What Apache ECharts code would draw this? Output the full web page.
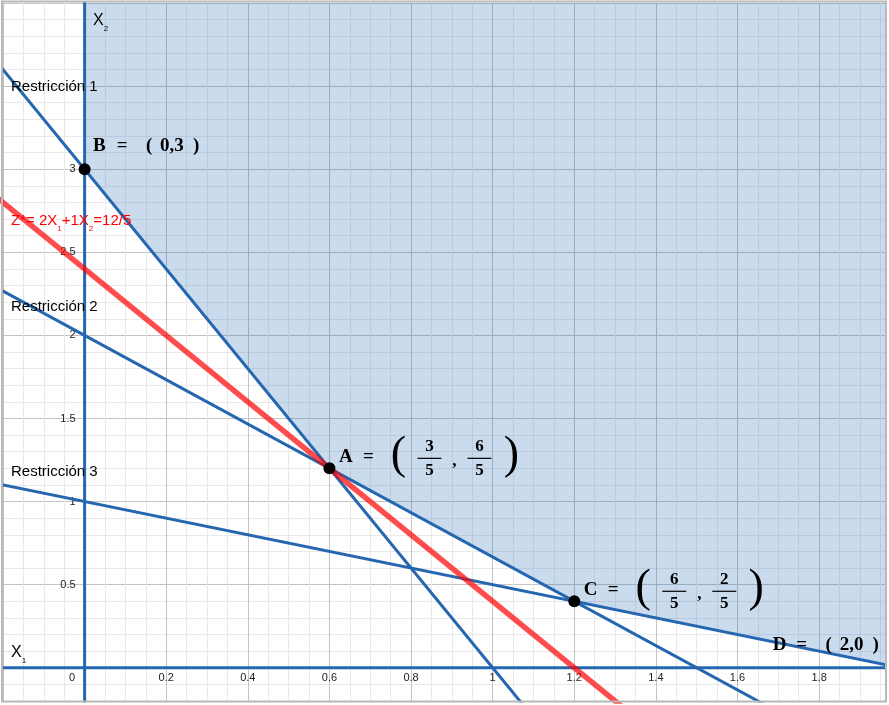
<!DOCTYPE html>
<html><head><meta charset="utf-8">
<script src="https://cdn.jsdelivr.net/npm/echarts@6/dist/echarts.min.js"></script>
<style>html,body{margin:0;padding:0;background:#fff}#c{width:889px;height:705px}</style>
</head><body><div id="c"></div>
<script>
// ---- data ----
const xLimits = [-0.2, 1.9615];
const yLimits = [-0.2, 4.0];
const xTickLabels = ['0','0.2','0.4','0.6','0.8','1','1.2','1.4','1.6','1.8'];
const yTickLabels = ['0.5','1','1.5','2','2.5','3'];
const restriction1 = [[-0.3, 3.9], [1.1, -0.3]];
const restriction2 = [[-0.3, 2.4], [1.8, -0.4]];
const restriction3 = [[-0.3, 1.15], [2.2, -0.1]];
const objectiveLine = [[-0.3, 3.0], [1.35, -0.3]];
const axisX1Line = [[-0.3, 0], [2.2, 0]];
const axisX2Line = [[0, -0.3], [0, 4.5]];
const feasibleRegion = [[0, 4.5], [0, 3], [0.6, 1.2], [1.2, 0.4], [2.2, -0.1], [2.2, 4.5]];
const vertexNames = ['A', 'B', 'C', 'D'];
const vertexCoords = [[0.6, 1.2], [0, 3], [1.2, 0.4], [2, 0]];
const vertexFractions = { A: ['3', '5', '6', '5'], C: ['6', '5', '2', '5'] };
const vertexPlain = { B: '0,3', D: '2,0' };
const lineNames = ['Restricción 1', 'Restricción 2', 'Restricción 3'];

const BLUE = '#2566b0';
const GRID = { left: 3, right: 4, top: 3, bottom: 4 };
const W = 889, H = 705;
const chart = echarts.init(document.getElementById('c'), null, { renderer: 'canvas' });

// pixel offsets that put the axes at the data zero
const xZeroFrac = (0 - xLimits[0]) / (xLimits[1] - xLimits[0]);
const yZeroFrac = (0 - yLimits[0]) / (yLimits[1] - yLimits[0]);
const plotW = W - GRID.left - GRID.right, plotH = H - GRID.top - GRID.bottom;
const yAxisOffset = -xZeroFrac * plotW;
const xAxisOffset = -yZeroFrac * plotH;

function blueLine(data, name) {
  return { type: 'line', name, data, symbol: 'none', clip: true, silent: true, z: 3,
    lineStyle: { color: BLUE, width: 3 }, animation: false };
}
const minorC = '#e9e9e9', majorC = '#c4c4c4';

chart.setOption({
  animation: false,
  grid: Object.assign({ containLabel: false, outerBoundsMode: 'none' }, GRID),
  xAxis: {
    type: 'value', min: xLimits[0], max: xLimits[1], interval: 0.2,
    position: 'bottom', offset: xAxisOffset,
    axisLine: { show: false, onZero: false },
    axisTick: { show: false },
    axisLabel: {
      margin: 5, fontSize: 11, color: '#222', fontFamily: 'Liberation Sans',
      formatter: v => { const s = String(Math.round(v * 100) / 100); if (!xTickLabels.includes(s)) return ''; return s === '0' ? '{z|0}' : s; },
      rich: { z: { fontSize: 11, color: '#222', fontFamily: 'Liberation Sans', padding: [0, 25, 0, 0] } }
    },
    splitLine: { show: true, lineStyle: { color: majorC, width: 1 } },
    minorTick: { show: false, splitNumber: 4 },
    minorSplitLine: { show: true, lineStyle: { color: minorC, width: 1 } }
  },
  yAxis: {
    type: 'value', min: yLimits[0], max: yLimits[1], interval: 0.1,
    position: 'left', offset: yAxisOffset,
    axisLine: { show: false, onZero: false },
    axisTick: { show: false },
    axisLabel: {
      margin: 9, fontSize: 11, color: '#222', fontFamily: 'Liberation Sans',
      formatter: v => { const s = String(Math.round(v * 10) / 10); return yTickLabels.includes(s) ? s : ''; }
    },
    splitLine: { show: true, lineStyle: { color: [minorC, minorC, majorC, minorC, minorC], width: 1 } }
  },
  series: [
    {
      type: 'custom', data: [0], clip: true, silent: true, z: 1,
      renderItem: (params, api) => ({
        type: 'polygon',
        shape: { points: feasibleRegion.map(p => api.coord(p)) },
        style: { fill: 'rgba(30,100,180,0.23)' }
      })
    },
    blueLine(axisX1Line, 'x1'),
    blueLine(axisX2Line, 'x2'),
    blueLine(restriction1, lineNames[0]),
    blueLine(restriction2, lineNames[1]),
    blueLine(restriction3, lineNames[2]),
    { type: 'line', data: objectiveLine, symbol: 'none', clip: true, silent: true, z: 4,
      lineStyle: { color: 'rgba(255,0,0,0.7)', width: 5.5 } },
    { type: 'scatter', data: vertexNames.map((n, i) => ({ name: n, value: vertexCoords[i] })),
      symbol: 'circle', symbolSize: 12, clip: true, z: 6,
      itemStyle: { color: '#000', opacity: 1 } }
  ]
});

// ---- annotations ----
const g = [];
const SERIF = 'Liberation Serif';
function txt(text, x, y, font, align, color) {
  g.push({ type: 'text', x, y, z: 50, silent: true,
    style: { text, font, textAlign: align || 'left', textVerticalAlign: 'middle', fill: color || '#000' } });
}
const bf = 'bold 19px "' + SERIF + '"';
const nf = 'bold 17px "' + SERIF + '"';
const pf = '46px "' + SERIF + '"';

vertexNames.forEach((n, i) => {
  const [px, py] = chart.convertToPixel({ gridIndex: 0 }, vertexCoords[i]);
  if (vertexPlain[n]) {
    const l = px + (n === 'D' ? -128 : 8.5), y = py - 23;
    txt(n, l, y, bf, 'left');
    txt('=', l + 29, y, bf, 'center');
    txt('(', l + 56, y, bf, 'center');
    txt(vertexPlain[n], l + 67, y, bf, 'left');
    txt(')', l + 103, y, bf, 'center');
  } else {
    const f = vertexFractions[n];
    const l = px + 9.5, y = py - 11;
    txt(n, l, y, bf, 'left');
    txt('=', l + 29.5, y, bf, 'center');
    txt('(', px + 69, y - 1, pf, 'center');
    txt(f[0], px + 100, py - 22, nf, 'center');
    txt(f[1], px + 100, py + 2, nf, 'center');
    g.push({ type: 'line', z: 50, silent: true, shape: { x1: px + 88, y1: py - 10, x2: px + 112, y2: py - 10 }, style: { stroke: '#000', lineWidth: 1.2 } });
    txt(',', px + 125, py - 7, nf, 'center');
    txt(f[2], px + 150, py - 22, nf, 'center');
    txt(f[3], px + 150, py + 2, nf, 'center');
    g.push({ type: 'line', z: 50, silent: true, shape: { x1: px + 138, y1: py - 10, x2: px + 162, y2: py - 10 }, style: { stroke: '#000', lineWidth: 1.2 } });
    txt(')', px + 182, y - 1, pf, 'center');
  }
});

const sf = '15px "Liberation Sans"';
txt(lineNames[0], 11, 87, sf, 'left');
txt(lineNames[1], 11, 307, sf, 'left');
txt(lineNames[2], 11, 472, sf, 'left');

function richLabel(parts, x, y, color, size) {
  const rich = { m: { fontSize: size, fontFamily: 'Liberation Sans', fill: color, lineHeight: 24, verticalAlign: 'middle' },
                 s: { fontSize: 8, fontFamily: 'Liberation Sans', fill: color, lineHeight: 8, verticalAlign: 'bottom' } };
  g.push({ type: 'text', x, y, z: 50, silent: true,
    style: { text: parts.map(p => '{' + p[0] + '|' + p[1] + '}').join(''), rich, textVerticalAlign: 'middle', textAlign: 'left' } });
}
richLabel([['m', 'Z*= 2X'], ['s', '1'], ['m', '+1X'], ['s', '2'], ['m', '=12/5']], 11, 221, '#ff0000', 15);
richLabel([['m', 'X'], ['s', '1']], 11, 652.5, '#000', 16);
richLabel([['m', 'X'], ['s', '2']], 93, 21, '#000', 16);

g.push({ type: 'rect', z: 60, silent: true, shape: { x: 2, y: 1.5, width: 884, height: 700 },
  style: { fill: null, stroke: '#b8b8b8', lineWidth: 2 } });

chart.setOption({ graphic: g });
</script></body></html>
